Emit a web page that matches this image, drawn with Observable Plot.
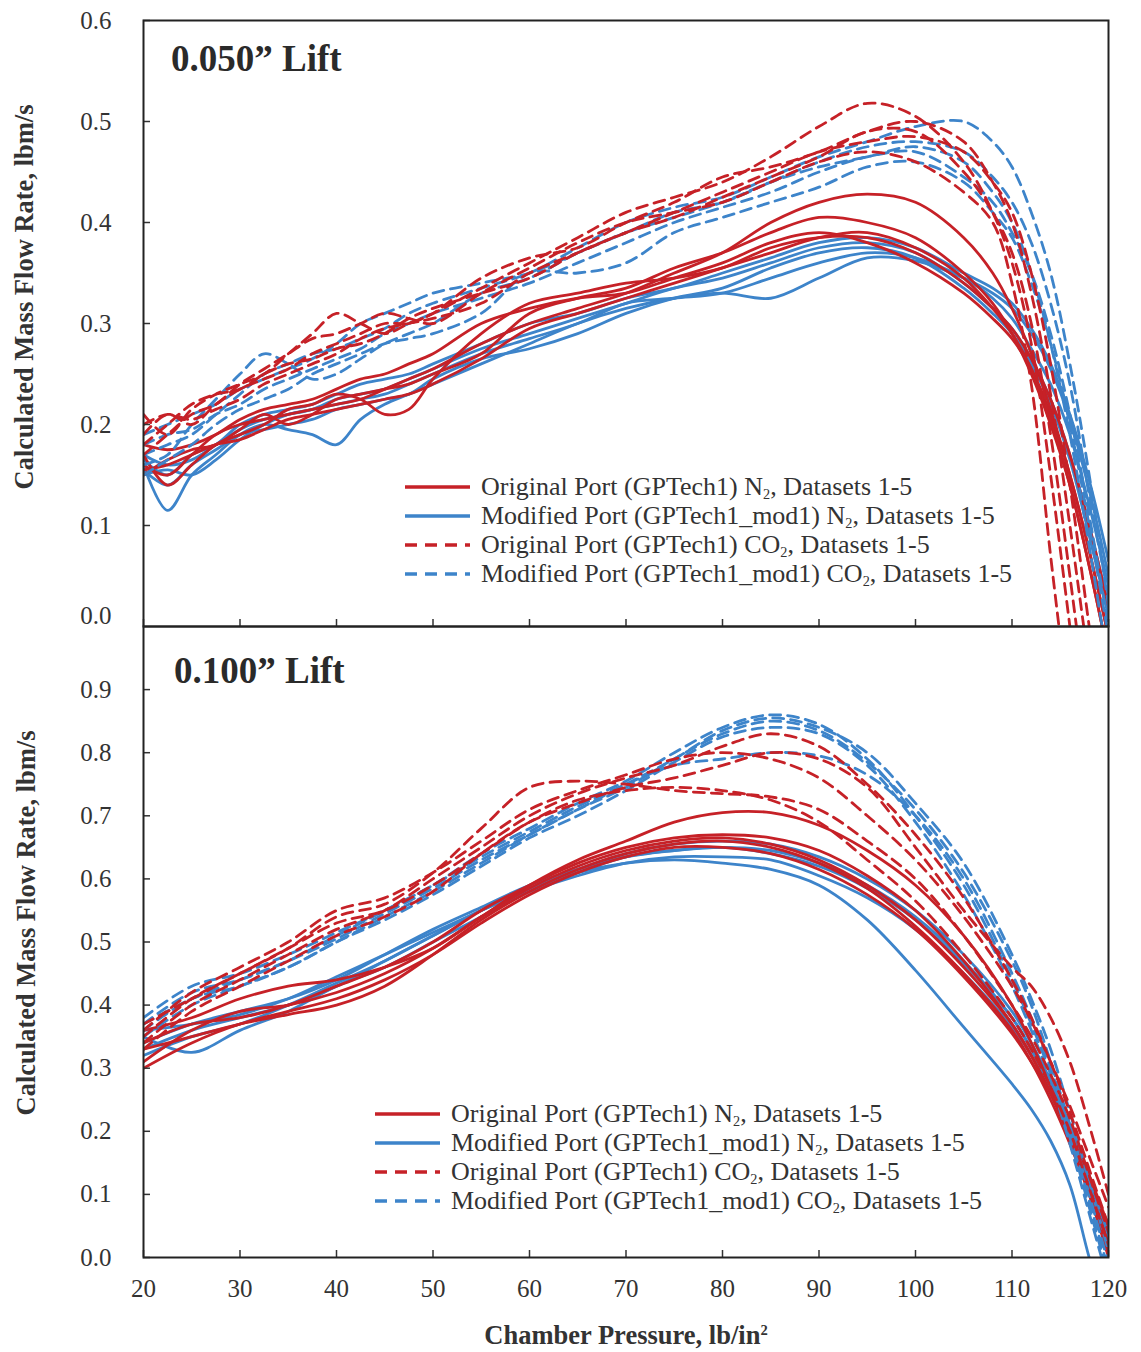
<!DOCTYPE html>
<html><head><meta charset="utf-8">
<script src="https://cdn.jsdelivr.net/npm/d3@7"></script>
<script src="https://cdn.jsdelivr.net/npm/@observablehq/plot@0.6"></script>
<style>
body{margin:0;background:#fff;}
#wrap{position:relative;width:1141px;height:1352px;overflow:hidden;font-family:"Liberation Serif","Times New Roman",serif;color:#333;background:#fff;}
#wrap svg{position:absolute;left:0;}
#wrap svg text{font-family:"Liberation Serif","Times New Roman",serif !important;}
.ptitle{position:absolute;font-weight:bold;font-size:37px;color:#2a2a2a;white-space:nowrap;line-height:1;}
.ylab{position:absolute;font-weight:bold;font-size:26.5px;color:#333;white-space:nowrap;line-height:1;transform:translate(-50%,-50%) rotate(-90deg);}
.xlab{position:absolute;font-weight:bold;font-size:26.5px;color:#333;white-space:nowrap;line-height:1;transform:translate(-50%,-50%);}
.lrow{position:absolute;display:flex;align-items:center;height:30px;font-size:26px;color:#333;white-space:nowrap;}
.lrow svg{position:static !important;margin-right:11px;}
sub{font-size:0.55em;vertical-align:-0.3em;line-height:0;}
sup{font-size:0.55em;vertical-align:0.6em;line-height:0;}
</style></head>
<body><div id="wrap"></div>
<script>
// ---------- data: top panel (0.050" lift) ----------
const pressureTop = [20,22.5,25,27.5,30,32.5,35,37.5,40,42.5,45,47.5,50,55,60,65,70,75,80,85,90,95,100,105,108,110,112,114,116,118,120];
const top_OrigN2 = [
 [0.16,0.15,0.17,0.19,0.20,0.205,0.21,0.215,0.22,0.225,0.235,0.245,0.255, 0.28,0.30,0.315,0.33,0.35,0.37,0.40,0.42,0.428,0.42,0.385, 0.35,0.315,0.27,0.215,0.15,0.075,-0.01],
 [0.15,0.165,0.175,0.18,0.195,0.21,0.20,0.21,0.225,0.23,0.235,0.24,0.25, 0.27,0.31,0.325,0.335,0.355,0.37,0.39,0.405,0.40,0.385,0.35, 0.32,0.29,0.25,0.20,0.14,0.06,-0.03],
 [0.17,0.14,0.16,0.18,0.19,0.20,0.215,0.22,0.23,0.225,0.21,0.215,0.245, 0.29,0.32,0.33,0.34,0.345,0.355,0.375,0.385,0.385,0.37,0.34, 0.315,0.295,0.265,0.225,0.17,0.10,0.02],
 [0.18,0.175,0.18,0.19,0.205,0.215,0.22,0.225,0.235,0.245,0.25,0.26,0.27, 0.30,0.315,0.325,0.33,0.345,0.36,0.38,0.39,0.38,0.36,0.33, 0.305,0.285,0.255,0.21,0.15,0.075,-0.01],
 [0.155,0.16,0.17,0.18,0.185,0.195,0.205,0.21,0.215,0.22,0.225,0.23,0.24, 0.265,0.295,0.31,0.325,0.34,0.355,0.37,0.385,0.39,0.375,0.345, 0.315,0.29,0.255,0.205,0.14,0.06,-0.03]
];
const top_ModN2 = [
 [0.16,0.115,0.15,0.17,0.19,0.20,0.195,0.19,0.18,0.205,0.22,0.23,0.24, 0.26,0.28,0.30,0.315,0.325,0.33,0.325,0.345,0.365,0.362,0.345, 0.33,0.315,0.29,0.255,0.205,0.135,0.05],
 [0.15,0.155,0.15,0.165,0.185,0.20,0.21,0.215,0.22,0.225,0.23,0.24,0.25, 0.27,0.285,0.30,0.32,0.325,0.33,0.345,0.36,0.37,0.365,0.345, 0.325,0.305,0.275,0.24,0.19,0.12,0.04],
 [0.17,0.16,0.165,0.18,0.195,0.205,0.21,0.215,0.225,0.23,0.235,0.245,0.255, 0.275,0.29,0.305,0.32,0.335,0.345,0.36,0.375,0.38,0.37,0.34, 0.315,0.295,0.265,0.225,0.17,0.10,0.02],
 [0.155,0.14,0.16,0.175,0.19,0.195,0.20,0.205,0.215,0.22,0.225,0.23,0.245, 0.265,0.275,0.29,0.31,0.325,0.335,0.355,0.37,0.375,0.365,0.335, 0.31,0.29,0.26,0.22,0.165,0.09,0.01],
 [0.165,0.15,0.17,0.18,0.20,0.21,0.215,0.22,0.23,0.24,0.245,0.25,0.26, 0.28,0.30,0.31,0.325,0.335,0.35,0.365,0.38,0.385,0.375,0.35, 0.335,0.32,0.295,0.26,0.21,0.145,0.065]
];
const top_OrigCO2 = [
 [0.19,0.21,0.20,0.22,0.235,0.245,0.255,0.27,0.28,0.29,0.30,0.30,0.31, 0.335,0.36,0.385,0.41,0.425,0.44,0.465,0.495,0.518,0.505,0.46, 0.41,0.36,0.28,0.15,0.0,-0.15,-0.3],
 [0.21,0.19,0.215,0.23,0.24,0.25,0.27,0.29,0.31,0.30,0.29,0.30,0.31, 0.345,0.365,0.375,0.40,0.42,0.445,0.455,0.47,0.49,0.50,0.48, 0.44,0.40,0.33,0.23,0.10,-0.04,-0.18],
 [0.18,0.20,0.22,0.23,0.235,0.25,0.26,0.265,0.275,0.28,0.29,0.305,0.315, 0.33,0.345,0.37,0.39,0.41,0.43,0.45,0.47,0.48,0.485,0.47, 0.44,0.41,0.35,0.26,0.14,0.0,-0.14],
 [0.17,0.19,0.21,0.22,0.24,0.255,0.27,0.285,0.29,0.30,0.31,0.305,0.30, 0.33,0.355,0.38,0.40,0.41,0.42,0.44,0.46,0.47,0.46,0.43, 0.40,0.34,0.24,0.07,-0.09,-0.25,-0.4],
 [0.20,0.21,0.205,0.215,0.225,0.24,0.25,0.26,0.27,0.285,0.295,0.30,0.305, 0.32,0.35,0.37,0.39,0.405,0.425,0.445,0.465,0.49,0.49,0.45, 0.41,0.37,0.30,0.19,0.05,-0.1,-0.25]
];
const top_ModCO2 = [
 [0.17,0.18,0.19,0.21,0.23,0.25,0.26,0.27,0.275,0.285,0.295,0.31,0.32, 0.335,0.35,0.375,0.40,0.415,0.425,0.445,0.465,0.48,0.495,0.50, 0.48,0.455,0.41,0.35,0.26,0.15,0.02],
 [0.16,0.17,0.20,0.225,0.25,0.27,0.26,0.245,0.25,0.265,0.28,0.29,0.30, 0.33,0.345,0.37,0.39,0.405,0.42,0.44,0.455,0.465,0.475,0.46, 0.43,0.40,0.35,0.28,0.19,0.08,-0.04],
 [0.18,0.19,0.195,0.21,0.22,0.235,0.245,0.255,0.265,0.275,0.29,0.30,0.31, 0.325,0.34,0.36,0.38,0.40,0.415,0.43,0.45,0.465,0.47,0.445, 0.42,0.39,0.35,0.29,0.21,0.11,0.0],
 [0.15,0.165,0.18,0.20,0.215,0.225,0.235,0.25,0.26,0.27,0.28,0.285,0.29, 0.31,0.35,0.35,0.36,0.39,0.405,0.42,0.435,0.455,0.46,0.44, 0.41,0.385,0.34,0.28,0.20,0.10,-0.01],
 [0.19,0.20,0.21,0.22,0.235,0.245,0.255,0.265,0.28,0.30,0.31,0.32,0.33, 0.34,0.35,0.37,0.39,0.41,0.42,0.44,0.46,0.475,0.48,0.47, 0.445,0.42,0.38,0.32,0.24,0.13,0.03]
];

// ---------- data: bottom panel (0.100" lift) ----------
const pressureBottom = [20,25,30,35,40,45,50,55,60,65,70,75,80,85,90,95,100,105,110,112,114,116,118,120];
const bot_OrigN2 = [
 [0.31,0.36,0.39,0.40,0.42,0.45,0.49,0.54,0.59,0.63,0.66,0.69,0.705,0.705,0.685,0.645,0.59,0.51,0.40,0.34,0.27,0.19,0.10,0.01],
 [0.34,0.37,0.38,0.40,0.43,0.46,0.50,0.55,0.59,0.625,0.65,0.665,0.67,0.665,0.645,0.605,0.55,0.47,0.37,0.32,0.26,0.19,0.11,0.02],
 [0.33,0.35,0.37,0.385,0.40,0.43,0.48,0.535,0.58,0.615,0.64,0.655,0.66,0.65,0.625,0.585,0.525,0.45,0.36,0.31,0.25,0.18,0.10,0.0],
 [0.36,0.38,0.41,0.43,0.44,0.46,0.49,0.54,0.585,0.62,0.645,0.66,0.665,0.655,0.63,0.59,0.535,0.46,0.37,0.32,0.26,0.19,0.11,0.02],
 [0.30,0.34,0.37,0.39,0.41,0.44,0.48,0.53,0.575,0.61,0.635,0.65,0.65,0.64,0.615,0.575,0.52,0.445,0.355,0.31,0.26,0.20,0.13,0.05]
];
const bot_ModN2 = [
 [0.35,0.325,0.36,0.39,0.43,0.46,0.50,0.54,0.58,0.61,0.635,0.645,0.65,0.645,0.625,0.59,0.54,0.47,0.38,0.33,0.27,0.20,0.12,0.03],
 [0.33,0.36,0.38,0.40,0.43,0.47,0.51,0.55,0.585,0.61,0.625,0.63,0.625,0.615,0.59,0.535,0.455,0.365,0.275,0.235,0.185,0.115,0.0,-0.1],
 [0.34,0.37,0.39,0.41,0.44,0.48,0.52,0.555,0.59,0.615,0.635,0.645,0.65,0.64,0.62,0.585,0.535,0.465,0.38,0.33,0.27,0.20,0.12,0.03],
 [0.32,0.35,0.37,0.40,0.435,0.47,0.51,0.55,0.58,0.605,0.625,0.635,0.635,0.63,0.605,0.57,0.52,0.45,0.365,0.32,0.26,0.19,0.11,0.02],
 [0.36,0.37,0.385,0.41,0.445,0.48,0.515,0.55,0.585,0.615,0.64,0.655,0.66,0.655,0.635,0.60,0.55,0.48,0.39,0.34,0.28,0.21,0.13,0.04]
];
const bot_OrigCO2 = [
 [0.35,0.41,0.45,0.49,0.54,0.56,0.61,0.68,0.745,0.755,0.75,0.74,0.735,0.73,0.71,0.66,0.60,0.51,0.40,0.35,0.29,0.22,0.13,0.04],
 [0.34,0.40,0.44,0.48,0.52,0.55,0.60,0.65,0.70,0.735,0.76,0.78,0.81,0.83,0.81,0.75,0.67,0.57,0.44,0.38,0.31,0.23,0.14,0.05],
 [0.36,0.42,0.46,0.50,0.55,0.57,0.61,0.66,0.71,0.74,0.765,0.79,0.80,0.79,0.76,0.70,0.63,0.54,0.43,0.375,0.31,0.24,0.16,0.08],
 [0.33,0.39,0.43,0.47,0.51,0.54,0.58,0.64,0.69,0.72,0.745,0.76,0.78,0.80,0.79,0.745,0.65,0.55,0.46,0.43,0.38,0.31,0.21,0.10],
 [0.37,0.41,0.45,0.49,0.53,0.55,0.59,0.64,0.69,0.725,0.74,0.745,0.74,0.725,0.69,0.63,0.565,0.48,0.38,0.33,0.27,0.20,0.11,0.02]
];
const bot_ModCO2 = [
 [0.37,0.42,0.44,0.47,0.51,0.55,0.59,0.64,0.68,0.72,0.755,0.80,0.84,0.86,0.845,0.79,0.70,0.59,0.44,0.37,0.29,0.19,0.08,-0.03],
 [0.36,0.41,0.43,0.46,0.50,0.54,0.58,0.625,0.67,0.71,0.745,0.79,0.83,0.85,0.835,0.785,0.71,0.61,0.47,0.40,0.31,0.21,0.10,-0.01],
 [0.38,0.43,0.45,0.48,0.515,0.55,0.59,0.635,0.675,0.715,0.75,0.78,0.79,0.80,0.795,0.765,0.70,0.60,0.45,0.38,0.30,0.20,0.09,-0.02],
 [0.35,0.40,0.43,0.46,0.50,0.535,0.575,0.62,0.665,0.70,0.74,0.785,0.825,0.84,0.83,0.78,0.69,0.575,0.43,0.36,0.28,0.18,0.07,-0.04],
 [0.37,0.41,0.44,0.47,0.505,0.545,0.585,0.63,0.67,0.71,0.75,0.79,0.835,0.855,0.84,0.80,0.72,0.625,0.48,0.41,0.33,0.23,0.12,0.01]
];

// ---------- axes & labels ----------
const xTicks = [20,30,40,50,60,70,80,90,100,110,120];
const yTicksTop = [0.1,0.2,0.3,0.4,0.5,0.6];
const yTickTopZero = [0];
const yTicksBottom = [0,0.1,0.2,0.3,0.4,0.5,0.6,0.7,0.8,0.9];
const titleTop = "0.050\u201D Lift";
const titleBottom = "0.100\u201D Lift";
const yTitle = "Calculated Mass Flow Rate, lbm/s";
const xTitle = "Chamber Pressure, lb/in";
const legendLabels = [
  ["Original Port (GPTech1) N", ", Datasets 1-5"],
  ["Modified Port (GPTech1_mod1) N", ", Datasets 1-5"],
  ["Original Port (GPTech1) CO", ", Datasets 1-5"],
  ["Modified Port (GPTech1_mod1) CO", ", Datasets 1-5"]
];

const RED = "#C62127", BLUE = "#3D84CA";
const DASH = "11,7";
const FONT = "Liberation Serif";
const seriesStyle = [
  {stroke: RED, dash: null},
  {stroke: BLUE, dash: null},
  {stroke: RED, dash: DASH},
  {stroke: BLUE, dash: DASH}
];

function rows(P, sets) {
  return sets.flatMap((vals, i) => vals.map((v, j) => ({P: P[j], v, set: i})));
}

function lineMarks(P, seriesList) {
  const order = [1, 0, 3, 2];
  return order.map(k => Plot.line(rows(P, seriesList[k]), {
    x: "P", y: "v", z: "set", stroke: seriesStyle[k].stroke,
    strokeDasharray: seriesStyle[k].dash, strokeWidth: 2.8,
    curve: "catmull-rom", clip: true
  }));
}

const W = 1141, ML = 143, MR = 33;
const plotW = W - ML - MR;
const common = {
  width: W, marginLeft: ML, marginRight: MR,
  x: {domain: [20, 120]},
  style: {fontFamily: FONT, fontSize: "25px", color: "#333", background: "transparent", overflow: "visible"}
};
const tickLabelOpts = {tickSize: 0, tickPadding: 32, tickFormat: d3.format(".1f"), label: null, fontSize: 25, fontFamily: FONT};

// top panel
const topH = 628, topMT = 20, topMB = 2;
const topInner = topH - topMT - topMB;
const topPlot = Plot.plot({
  ...common, height: topH, marginTop: topMT, marginBottom: topMB,
  y: {domain: [0, 0.6]},
  marks: [
    ...lineMarks(pressureTop, [top_OrigN2, top_ModN2, top_OrigCO2, top_ModCO2]),
    Plot.tickY(yTicksTop, {y: d => d, insetRight: plotW - 7, stroke: "#333", strokeWidth: 1.5}),
    Plot.tickX(xTicks, {x: d => d, insetTop: topInner - 7, stroke: "#333", strokeWidth: 1.5}),
    Plot.axisY(yTicksTop, tickLabelOpts),
    Plot.axisY(yTickTopZero, {...tickLabelOpts, dy: -11}),
    Plot.axisX({ticks: [], label: null}),
    Plot.frame({stroke: "#222", strokeWidth: 2})
  ]
});
topPlot.style.top = "0px";

// bottom panel
const botTop = 625, botH = 727, botMT = 1, botMB = 95;
const botInner = botH - botMT - botMB;
const botPlot = Plot.plot({
  ...common, height: botH, marginTop: botMT, marginBottom: botMB,
  y: {domain: [0, 1.0]},
  marks: [
    ...lineMarks(pressureBottom, [bot_OrigN2, bot_ModN2, bot_OrigCO2, bot_ModCO2]),
    Plot.tickY(yTicksBottom, {y: d => d, insetRight: plotW - 7, stroke: "#333", strokeWidth: 1.5}),
    Plot.tickX(xTicks, {x: d => d, insetTop: botInner - 7, stroke: "#333", strokeWidth: 1.5}),
    Plot.axisY(yTicksBottom, tickLabelOpts),
    Plot.axisX(xTicks, {tickSize: 0, tickPadding: 22, label: null, fontSize: 25, fontFamily: FONT}),
    Plot.frame({stroke: "#222", strokeWidth: 2})
  ]
});
botPlot.style.top = botTop + "px";

const wrap = document.getElementById("wrap");
wrap.appendChild(topPlot);
wrap.appendChild(botPlot);

function addDiv(cls, html, left, top) {
  const d = document.createElement("div");
  d.className = cls; d.innerHTML = html;
  d.style.left = left + "px"; d.style.top = top + "px";
  wrap.appendChild(d);
  return d;
}
addDiv("ptitle", titleTop, 171, 40);
addDiv("ptitle", titleBottom, 174, 652);
addDiv("ylab", yTitle, 24, 297);
addDiv("ylab", yTitle, 26, 923);
addDiv("xlab", xTitle + "<sup>2</sup>", 626, 1335);

function legend(x, y0, step) {
  legendLabels.forEach((lab, i) => {
    const s = seriesStyle[i];
    const html = `<svg width="65" height="8"><line x1="0" y1="4" x2="65" y2="4" stroke="${s.stroke}" stroke-width="3.5"${s.dash ? ` stroke-dasharray="12,8"` : ""}/></svg><span>${lab[0]}<sub>2</sub>${lab[1]}</span>`;
    addDiv("lrow", html, x, y0 + i * step - 15);
  });
}
legend(405, 487, 29);
legend(375, 1114, 29);
</script>
</body></html>
